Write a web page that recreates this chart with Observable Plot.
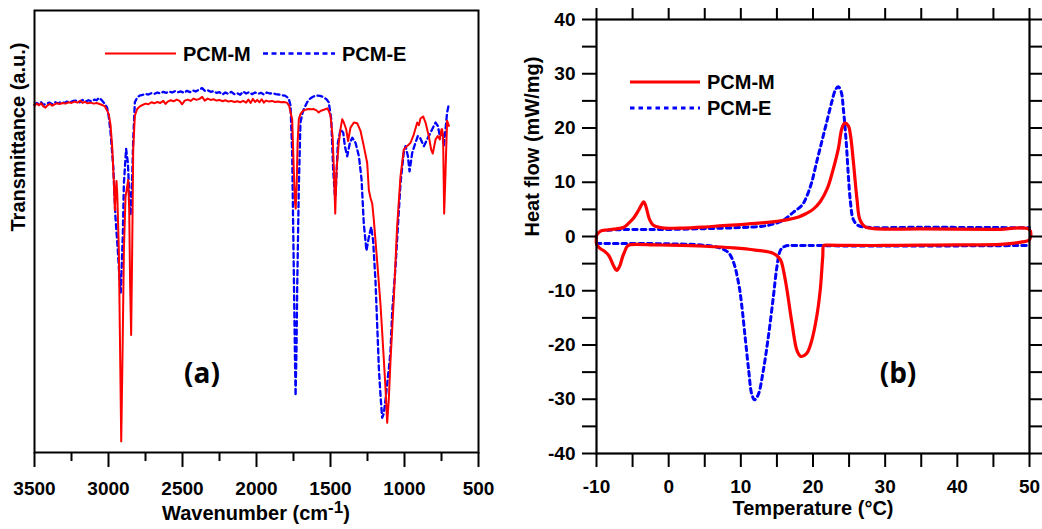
<!DOCTYPE html>
<html><head><meta charset="utf-8">
<script src="https://cdn.jsdelivr.net/npm/d3@7"></script>
<script src="https://cdn.jsdelivr.net/npm/@observablehq/plot@0.6"></script>
<style>
html,body{margin:0;padding:0;background:#fff;}
#wrap{position:relative;width:1042px;height:529px;overflow:hidden;background:#fff;}
#a{position:absolute;left:0;top:0;width:520px;height:529px;}
#b{position:absolute;left:520px;top:0;width:522px;height:529px;}
#a svg,#b svg{max-width:none;overflow:visible;}
</style></head><body><div id="wrap"><div id="a"></div><div id="b"></div></div>
<script>
// ---------- Panel (a): FTIR, [wavenumber cm-1, transmittance a.u.] ----------
const seriesNames = ["PCM-M", "PCM-E"];
const ftirM = [[3500,102.8],[3485,103.4],[3470,102.9],[3455,103.5],[3440,102.6],[3426,102.2],[3410,103.0],[3395,103.3],[3380,102.8],[3365,103.2],[3350,103.5],[3330,103.3],[3310,103.6],[3290,103.4],[3270,103.8],[3250,103.6],[3230,104.0],[3210,103.7],[3189,104.3],[3175,103.6],[3160,103.9],[3140,103.5],[3120,103.7],[3100,103.4],[3080,103.6],[3060,103.3],[3043,103.0],[3025,102.6],[3009,101.3],[2998,100.2],[2986,97.0],[2975,90.5],[2964,80.3],[2957,71.8],[2952,76.5],[2946,80.5],[2941,76.8],[2930,59.8],[2923,34.8],[2914,3.3],[2905,29.8],[2896,59.8],[2885,75.8],[2875,78.5],[2867,80.8],[2860,71.8],[2854,49.8],[2847,34.8],[2840,59.8],[2833,89.8],[2822,99.8],[2806,101.8],[2790,102.5],[2770,103.0],[2750,103.4],[2730,103.2],[2710,103.8],[2690,103.5],[2670,103.9],[2650,103.6],[2630,104.2],[2615,103.3],[2600,104.0],[2580,104.4],[2560,104.1],[2540,104.6],[2520,104.2],[2502,103.2],[2485,104.3],[2465,104.6],[2445,104.2],[2425,104.9],[2405,104.5],[2385,104.8],[2367,105.4],[2350,104.3],[2330,104.9],[2310,104.5],[2290,104.7],[2270,104.3],[2250,104.5],[2230,104.1],[2210,104.4],[2190,104.0],[2170,104.2],[2150,103.9],[2130,104.1],[2110,103.8],[2090,104.2],[2070,103.7],[2055,104.6],[2040,103.6],[2025,104.8],[2010,103.9],[1995,104.5],[1980,103.8],[1965,104.7],[1950,103.7],[1935,104.3],[1915,104.0],[1895,104.2],[1875,103.9],[1855,104.0],[1835,103.8],[1815,103.9],[1795,103.7],[1780,102.8],[1768,100.5],[1759,98.8],[1748,83.8],[1740,74.0],[1735,72.3],[1728,80.0],[1722,92.0],[1714,98.8],[1703,100.3],[1685,101.3],[1669,101.6],[1650,101.8],[1630,101.7],[1613,101.8],[1595,101.4],[1580,100.8],[1565,101.3],[1545,101.6],[1522,102.0],[1512,101.3],[1500,99.8],[1486,93.8],[1477,83.8],[1468,70.8],[1459,83.8],[1444,91.8],[1432,96.0],[1421,98.8],[1410,97.8],[1394,95.8],[1381,92.3],[1365,96.3],[1342,97.8],[1320,97.6],[1297,95.3],[1275,90.8],[1252,85.8],[1241,77.8],[1230,75.5],[1218,73.8],[1207,68.8],[1185,56.8],[1162,43.8],[1140,27.8],[1128,18.8],[1117,8.8],[1106,15.8],[1095,26.8],[1072,45.8],[1050,66.8],[1027,81.8],[1005,89.8],[982,90.8],[959,91.8],[937,94.3],[914,97.8],[903,97.0],[892,99.0],[874,99.6],[858,97.8],[836,93.8],[820,89.8],[809,88.6],[790,92.8],[775,93.8],[761,92.8],[750,95.8],[745,95.8],[739,93.0],[732,70.8],[725,80.0],[719,88.8],[712,98.3],[700,96.8]];
const ftirE = [[3500,103.0],[3485,103.6],[3470,103.2],[3455,103.8],[3440,103.0],[3420,103.4],[3400,103.7],[3380,103.2],[3360,103.8],[3340,103.5],[3320,103.9],[3300,103.6],[3280,104.0],[3260,103.8],[3240,104.2],[3212,104.3],[3195,103.8],[3175,104.5],[3155,104.0],[3135,104.4],[3115,104.1],[3095,104.6],[3080,104.4],[3065,105.1],[3050,104.6],[3030,103.6],[3010,102.3],[2998,99.5],[2986,94.8],[2968,84.8],[2953,69.8],[2937,59.8],[2923,49.8],[2917,47.4],[2903,64.8],[2896,79.8],[2881,90.0],[2869,85.8],[2860,76.8],[2851,70.3],[2840,81.8],[2833,92.8],[2822,103.8],[2806,105.2],[2790,105.8],[2770,106.0],[2750,106.3],[2730,106.1],[2710,106.5],[2690,106.3],[2670,106.7],[2650,106.4],[2630,106.9],[2610,106.6],[2590,107.0],[2570,106.7],[2550,107.1],[2530,106.8],[2510,107.0],[2490,106.6],[2470,107.2],[2450,106.8],[2430,107.3],[2410,107.0],[2390,107.5],[2367,108.0],[2350,107.2],[2330,107.4],[2310,106.9],[2290,107.1],[2270,106.6],[2250,106.8],[2230,106.1],[2210,106.7],[2190,106.3],[2170,106.9],[2150,106.2],[2130,106.5],[2110,106.0],[2090,107.0],[2070,106.4],[2050,106.8],[2030,106.2],[2010,106.7],[1990,106.3],[1970,106.6],[1950,106.1],[1930,106.7],[1910,106.4],[1890,106.5],[1870,106.2],[1850,106.1],[1830,105.9],[1810,105.8],[1795,105.4],[1780,104.6],[1770,102.8],[1759,88.8],[1748,53.8],[1740,28.0],[1736,16.8],[1730,30.0],[1725,48.8],[1714,78.8],[1703,97.8],[1690,100.5],[1680,101.8],[1658,103.8],[1640,104.8],[1624,105.3],[1605,105.7],[1590,105.8],[1570,105.7],[1545,105.3],[1525,104.6],[1512,103.8],[1495,98.8],[1482,83.8],[1471,76.5],[1466,75.8],[1458,84.0],[1450,91.8],[1432,95.8],[1414,94.8],[1403,90.8],[1387,87.8],[1369,91.8],[1353,93.3],[1331,91.8],[1308,87.8],[1290,80.8],[1275,67.8],[1257,59.8],[1241,63.8],[1225,66.8],[1212,62.8],[1196,50.8],[1173,24.8],[1162,16.8],[1151,10.3],[1140,11.5],[1128,15.8],[1106,24.8],[1095,29.8],[1083,41.8],[1061,54.8],[1038,71.8],[1027,79.8],[1005,88.8],[993,90.8],[977,87.8],[966,83.3],[948,88.8],[926,91.8],[910,93.8],[895,93.3],[880,91.8],[869,90.8],[847,92.8],[813,95.8],[790,97.8],[775,96.8],[761,93.8],[745,94.8],[734,90.8],[723,95.8],[712,100.8],[700,103.3]];
const irMajorTicks = [3500, 3000, 2500, 2000, 1500, 1000, 500];
const irMinorTicks = [3250, 2750, 2250, 1750, 1250, 750];
const irXTitle = "Wavenumber (cm";
const irXTitleSup = "-1";
const irYTitle = "Transmittance (a.u.)";
const panelA = "(a)";

// ---------- Panel (b): DSC, [temperature °C, heat flow mW/mg] ----------
const dscM = [[-10,0.2],[-9.45,0.98],[-8.5,1.2],[-7.6,1.35],[-6.2,1.7],[-5.5,2.5],[-4.8,3.5],[-4.1,5.0],[-3.45,6.4],[-3.1,5.3],[-2.75,3.5],[-2.4,2.5],[-2.05,2.0],[-0.9,1.6],[2,1.55],[5,1.75],[7.5,2.0],[10,2.2],[12.5,2.45],[15,2.8],[16.5,3.1],[18,3.6],[19,4.2],[20,5.0],[21,6.4],[22,8.9],[22.8,12.4],[23.5,16.1],[24,19.9],[24.4,20.9],[24.9,20.4],[25.2,18.6],[25.6,13.7],[26.1,6.8],[26.5,3.1],[27.2,1.8],[28.4,1.45],[35,1.4],[45,1.3],[50,1.25],[50,-0.6],[49,-1.0],[48,-1.2],[46,-1.45],[40,-1.55],[35,-1.6],[30,-1.65],[25,-1.65],[22,-1.6],[21.5,-1.65],[21.35,-3.7],[21,-9.9],[20.5,-14.9],[19.8,-19.3],[19.1,-21.6],[18.3,-22.1],[17.8,-21.1],[17.1,-16.1],[16.4,-9.9],[15.9,-6.2],[15.5,-4.3],[14.5,-3.1],[12,-2.5],[9,-2.1],[5,-1.8],[0,-1.6],[-2,-1.55],[-5.3,-1.5],[-5.75,-1.8],[-6.1,-2.8],[-6.4,-3.8],[-6.8,-5.5],[-7.2,-6.25],[-7.6,-5.5],[-8.3,-3.5],[-8.9,-2.7],[-9.45,-2.26],[-9.8,-1.8],[-10,-1.35],[-10,0.2]];
const dscEUpper = [[-8.5,1.15],[-7,1.25],[-5,1.3],[-2,1.3],[0,1.3],[5,1.45],[10,1.65],[13,1.9],[14.5,2.3],[15.9,3.0],[17.3,4.5],[18.5,5.8],[19.1,7.3],[19.8,9.9],[20.5,13.7],[21.2,17.4],[21.9,21.1],[22.6,24.8],[23.1,27.0],[23.5,27.6],[23.9,26.7],[24.2,23.6],[24.6,17.4],[24.9,11.2],[25.2,6.2],[25.6,3.1],[26.3,2.0],[27.5,1.7],[35,1.7],[45,1.65],[50,1.6]];
const dscELower = [[-10,-1.3],[-5,-1.3],[0,-1.35],[4.8,-1.6],[7.1,-2.1],[8.3,-3.0],[9.0,-4.8],[9.7,-8.7],[10.1,-12.4],[10.6,-18.6],[11.1,-24.8],[11.5,-29.0],[11.9,-30.1],[12.4,-29.2],[13.1,-24.8],[13.8,-18.6],[14.5,-11.2],[15.0,-5.6],[15.5,-2.5],[16.1,-1.8],[17.8,-1.65],[25,-1.75],[35,-1.75],[45,-1.7],[50,-1.65]];
const dscXMajor = [-10, 0, 10, 20, 30, 40, 50];
const dscXMinor = [-5, 5, 15, 25, 35, 45];
const dscYMajor = [-40, -30, -20, -10, 0, 10, 20, 30, 40];
const dscYMinor = [-35, -25, -15, -5, 5, 15, 25, 35];
const dscXTitle = "Temperature (°C)";
const dscYTitle = "Heat flow (mW/mg)";
const panelB = "(b)";

const RED = "#ff0000", BLUE = "#0000ff";
const FONT = "'Liberation Sans', Arial, sans-serif";
const rows = pairs => pairs.map(([x, y]) => ({x, y}));
const fmt = d => String(d);
const blank = () => "";

// ---------- Panel (a) ----------
const svgA = Plot.plot({
  width: 520, height: 529, marginLeft: 34, marginRight: 42, marginTop: 10, marginBottom: 77,
  style: {fontFamily: FONT, fontWeight: "bold", fontSize: "19px", color: "#000", background: "#fff", overflow: "visible"},
  x: {domain: [3500, 500]},
  y: {domain: [0, 131], axis: null},
  marks: [
    Plot.line(rows(ftirE), {x: "x", y: "y", stroke: BLUE, strokeWidth: 2.3, strokeDasharray: "5,3.5"}),
    Plot.line(rows(ftirM), {x: "x", y: "y", stroke: RED, strokeWidth: 2}),
    Plot.axisX({ticks: irMajorTicks, tickSize: 15, tickPadding: 14, tickFormat: fmt, strokeWidth: 2, fontSize: 19, label: null}),
    Plot.axisX({ticks: irMinorTicks, tickSize: 9, tickFormat: blank, strokeWidth: 2, label: null}),
    Plot.frame({stroke: "#000", strokeWidth: 2}),
    Plot.text([irYTitle], {text: d => d, frameAnchor: "left", rotate: -90, dx: -16, lineAnchor: "middle", fontSize: 20, fontWeight: "bold"})
  ]
});
document.getElementById("a").appendChild(svgA);

// ---------- Panel (b) ----------
const svgB = Plot.plot({
  width: 522, height: 529, marginLeft: 76, marginRight: 13, marginTop: 19, marginBottom: 76,
  style: {fontFamily: FONT, fontWeight: "bold", fontSize: "19px", color: "#000", background: "#fff", overflow: "visible"},
  x: {domain: [-10, 50]},
  y: {domain: [-40, 40]},
  marks: [
    Plot.line(rows(dscEUpper), {x: "x", y: "y", stroke: BLUE, strokeWidth: 3, strokeDasharray: "4.5,4", curve: "catmull-rom"}),
    Plot.line(rows(dscELower), {x: "x", y: "y", stroke: BLUE, strokeWidth: 3, strokeDasharray: "4.5,4", curve: "catmull-rom"}),
    Plot.line(rows(dscM), {x: "x", y: "y", stroke: RED, strokeWidth: 3.2, curve: "catmull-rom"}),
    Plot.axisX({ticks: dscXMajor, tickSize: 14, tickPadding: 12, tickFormat: fmt, strokeWidth: 2, fontSize: 19, label: null}),
    Plot.axisX({ticks: dscXMinor, tickSize: 14, tickFormat: blank, strokeWidth: 2, label: null}),
    Plot.axisX({anchor: "top", ticks: dscXMajor.concat(dscXMinor), tickSize: 12, tickFormat: blank, strokeWidth: 2, label: null}),
    Plot.axisY({ticks: dscYMajor, tickSize: 14, tickPadding: 7, tickFormat: fmt, strokeWidth: 2, fontSize: 19, label: null}),
    Plot.axisY({ticks: dscYMinor, tickSize: 14, tickFormat: blank, strokeWidth: 2, label: null}),
    Plot.axisY({anchor: "right", ticks: dscYMajor.concat(dscYMinor), tickSize: 12, tickFormat: blank, strokeWidth: 2, label: null}),
    Plot.frame({stroke: "#000", strokeWidth: 2.2}),
    Plot.text([dscYTitle], {text: d => d, frameAnchor: "left", rotate: -90, dx: -64, lineAnchor: "middle", fontSize: 20, fontWeight: "bold"}),
    Plot.text([dscXTitle], {text: d => d, frameAnchor: "bottom", dy: 55, lineAnchor: "middle", fontSize: 20, fontWeight: "bold"})
  ]
});
document.getElementById("b").appendChild(svgB);

// ---------- Annotations: x title with superscript, legends, panel labels ----------
const sa = d3.select(svgA);
const xt = sa.append("text").attr("x", 256).attr("y", 520).attr("text-anchor", "middle")
  .attr("font-family", FONT).attr("font-weight", "bold").attr("font-size", 20).attr("fill", "#000");
xt.append("tspan").text(irXTitle);
xt.append("tspan").attr("dy", -7).attr("font-size", 17).text(irXTitleSup);
xt.append("tspan").attr("dy", 7).text(")");

function legendItem(sel, x1, x2, y, color, dash, width, label) {
  sel.append("line").attr("x1", x1).attr("x2", x2).attr("y1", y).attr("y2", y)
    .attr("stroke", color).attr("stroke-width", width).attr("stroke-dasharray", dash);
  sel.append("text").attr("x", x2 + 7).attr("y", y + 7).attr("text-anchor", "start").attr("font-family", FONT)
    .attr("font-weight", "bold").attr("font-size", 20).attr("fill", "#000").text(label);
}
legendItem(sa, 105, 176, 53.5, RED, null, 2, seriesNames[0]);
legendItem(sa, 263, 335, 53.5, BLUE, "5,3.5", 2.3, seriesNames[1]);
const sb = d3.select(svgB);
legendItem(sb, 110, 180, 82, RED, null, 3.2, seriesNames[0]);
legendItem(sb, 110, 180, 108, BLUE, "4.5,4", 3, seriesNames[1]);

function panelLabel(sel, x, y, t) {
  sel.append("text").attr("x", x).attr("y", y).attr("text-anchor", "middle").attr("dominant-baseline", "central")
    .attr("font-family", "'Open Sans', 'Liberation Sans', sans-serif").attr("font-weight", "bold")
    .attr("font-size", 28).attr("fill", "#000").text(t);
}
panelLabel(sa, 202, 372, panelA);
panelLabel(sb, 378, 372, panelB);
</script></body></html>
